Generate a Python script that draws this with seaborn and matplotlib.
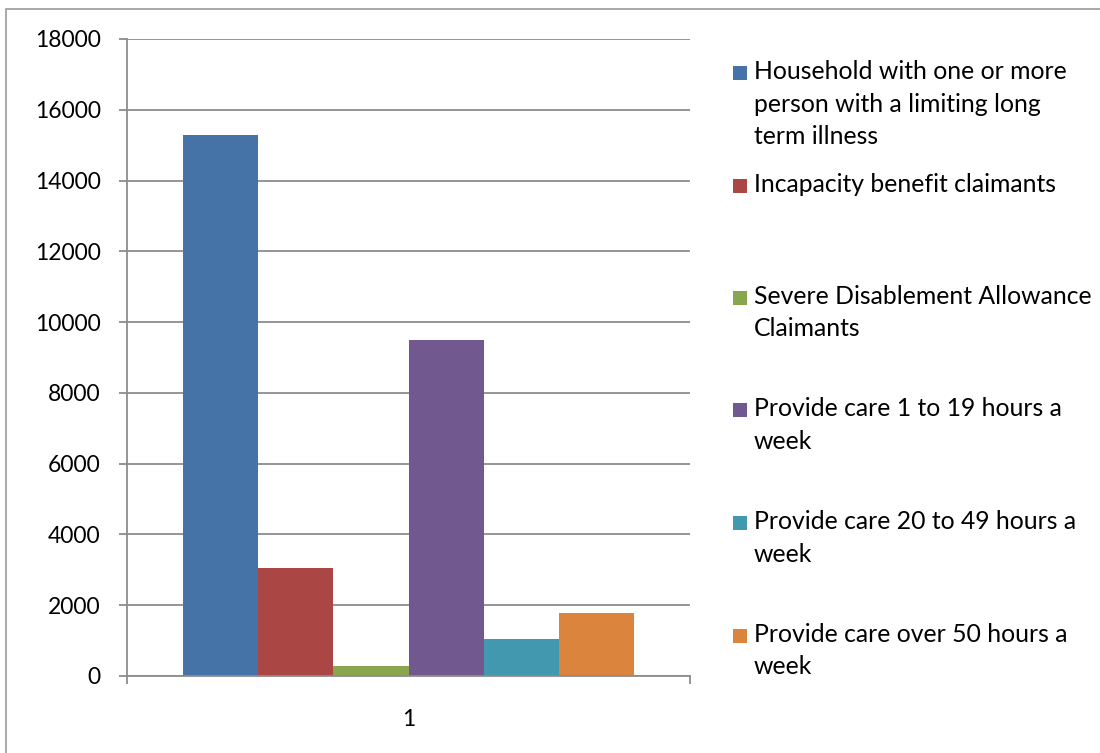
import matplotlib
matplotlib.use("Agg")
import matplotlib.pyplot as plt
from matplotlib.patches import Rectangle
import seaborn as sns
import pandas as pd

# Data
categories = ["1"]
series = [
    "Household with one or more person with a limiting long term illness",
    "Incapacity benefit claimants",
    "Severe Disablement Allowance Claimants",
    "Provide care 1 to 19 hours a week",
    "Provide care 20 to 49 hours a week",
    "Provide care over 50 hours a week",
]
legend_labels = [
    "Household with one or more\nperson with a limiting long\nterm illness",
    "Incapacity benefit claimants",
    "Severe Disablement Allowance\nClaimants",
    "Provide care 1 to 19 hours a\nweek",
    "Provide care 20 to 49 hours a\nweek",
    "Provide care over 50 hours a\nweek",
]
values = [15300, 3060, 290, 9500, 1050, 1790]
y_ticks = [0, 2000, 4000, 6000, 8000, 10000, 12000, 14000, 16000, 18000]
colors = ["#4572A7", "#AA4643", "#89A54E", "#71588F", "#4198AF", "#DB843D"]

df = pd.DataFrame({
    "category": categories * len(series),
    "series": series,
    "value": values,
})

sns.set_style("white")
plt.rcParams["font.family"] = ["Lato", "DejaVu Sans"]

W, H = 1100, 753
fig = plt.figure(figsize=(W / 100, H / 100), dpi=100)
ax = fig.add_axes([127 / W, 1 - 676 / H, (690 - 127) / W, (676 - 39) / H])

sns.barplot(data=df, x="category", y="value", hue="series", hue_order=series,
            palette=colors, saturation=1, width=0.8, ax=ax, legend=False,
            errorbar=None, linewidth=0)

grid_c = "#8C8C8C"
ax.set_ylim(0, 18000)
ax.set_xlim(-0.5, 0.5)
ax.set_yticks(y_ticks)
ax.set_yticklabels([str(t) for t in y_ticks])
ax.yaxis.grid(True, color=grid_c, linewidth=1.3)
ax.set_axisbelow(True)
ax.set_xlabel("")
ax.set_ylabel("")
for s in ["top", "right"]:
    ax.spines[s].set_visible(False)
for s in ["left", "bottom"]:
    ax.spines[s].set_color(grid_c)
    ax.spines[s].set_linewidth(1.3)

ax.tick_params(axis="y", which="major", direction="out", length=6, width=1.3,
               color=grid_c, pad=13, labelsize=16.5, labelcolor="black", left=True)
ax.set_xticks([0])
ax.set_xticklabels(categories)
ax.set_xticks([-0.5, 0.5], minor=True)
ax.tick_params(axis="x", which="major", length=0, pad=24, labelsize=16.5,
               labelcolor="black")
ax.tick_params(axis="x", which="minor", direction="out", length=6, width=1.3,
               color=grid_c, bottom=True)

# Legend on the right, evenly spaced slots
slot_top = 73
slot_step = 112.5
for i, (lab, col) in enumerate(zip(legend_labels, colors)):
    yc = slot_top + i * slot_step
    fig.patches.append(Rectangle((733 / W, 1 - (yc + 7) / H), 14 / W, 14 / H,
                                 transform=fig.transFigure, facecolor=col,
                                 edgecolor="none"))
    fig.text(754 / W, 1 - (yc - 13) / H, lab, fontsize=17.8, va="top", ha="left",
             color="black", linespacing=1.5)

# Chart frame
fig.patches.append(Rectangle((6 / W, -0.05), 1.2, 1 - 9 / H + 0.05,
                             transform=fig.transFigure, facecolor="none",
                             edgecolor="#9A9A9A", linewidth=1.2))

fig.savefig("out.png", dpi=100)
